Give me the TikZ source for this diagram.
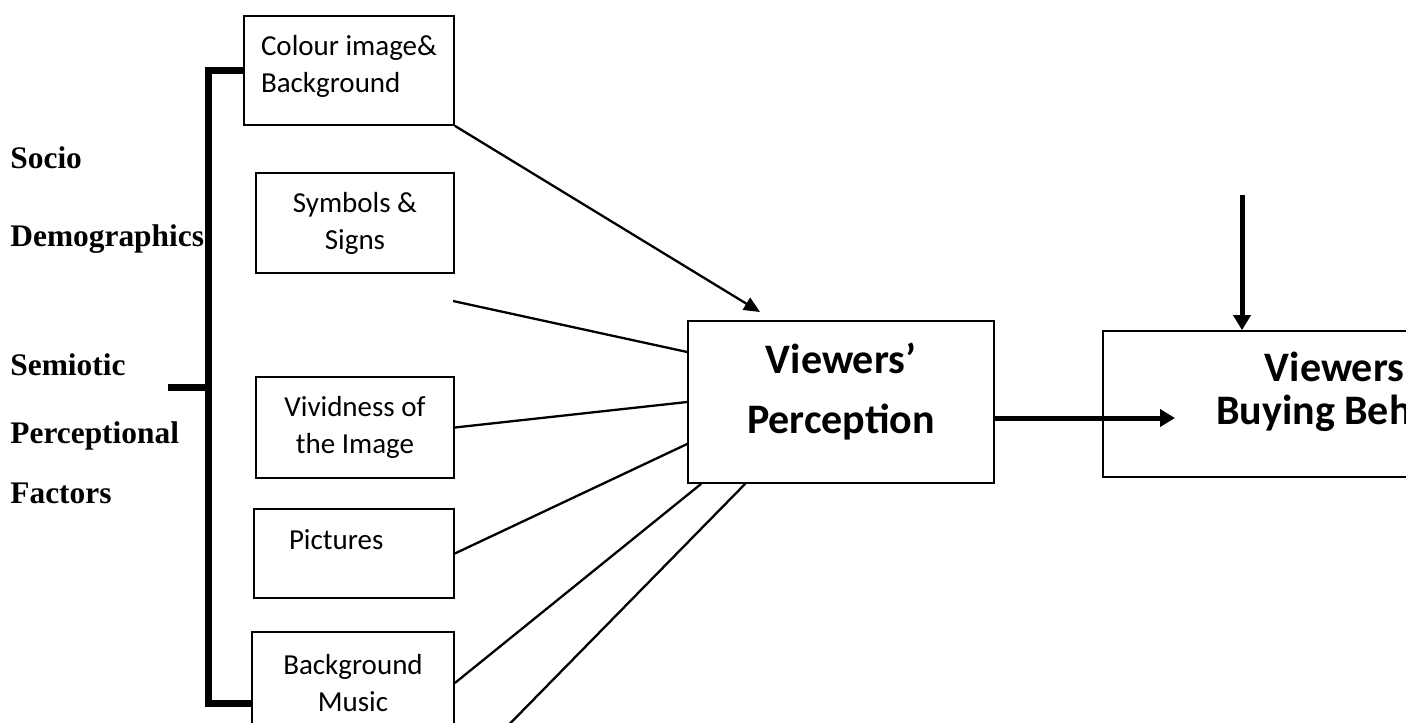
\documentclass[tikz,border=0pt]{standalone}
\usepackage{fontspec}
\usepackage{tikz}
\usetikzlibrary{arrows.meta}
\newfontfamily\boxfont{Carlito}
\newfontfamily\sidefont{Liberation Serif}

\begin{document}
\begin{tikzpicture}[x=0.5pt, y=-0.5pt,
  factorbox/.style={draw, line width=0.85pt, inner sep=0pt,
    font=\boxfont\fontsize{14.5}{18.5}\selectfont},
  mainbox/.style={draw, line width=0.85pt, inner sep=0pt, align=center,
    font=\boxfont\bfseries\fontsize{21}{30}\selectfont},
  sidelabel/.style={anchor=base west, inner sep=0pt,
    font=\sidefont\bfseries\fontsize{15.7}{18}\selectfont},
  link/.style={line width=1.15pt},
  thickarrow/.style={line width=2.5pt, -{Triangle[length=7.5pt,width=8.5pt]}},
  brace/.style={line width=3.5pt}]
  \useasboundingbox (0,0) rectangle (1406,722);
  \clip (0,0) rectangle (1406,722);

  % left labels
  \node[sidelabel] (socio) at (10,168) {Socio};
  \node[sidelabel] (demog) at (10,246) {Demographics};
  \node[sidelabel] (semio) at (10,375) {Semiotic};
  \node[sidelabel] (percf) at (10,443) {Perceptional};
  \node[sidelabel] (factors) at (10,503) {Factors};

  % factor boxes
  \node[factorbox, minimum width=105pt, minimum height=54.5pt, align=left,
    text depth=6.5pt] (colour) at (349,70.5) {Colour image\&\\Background};
  \node[factorbox, minimum width=99pt, minimum height=50pt, align=center]
    (symbols) at (355,223) {Symbols \&\\Signs};
  \node[factorbox, minimum width=99pt, minimum height=50.5pt, align=center]
    (vivid) at (355,427.5) {Vividness of\\the Image};
  \node[factorbox, minimum width=100pt, minimum height=44.5pt, text width=65pt,
    align=left, text depth=13.5pt] (pictures) at (354,553.5) {Pictures};
  \node[factorbox, minimum width=101pt, minimum height=51pt, align=center]
    (music) at (353,683) {Background\\Music};

  % main boxes
  \node[mainbox, minimum width=153pt, minimum height=81pt, text depth=13.5pt]
    (percept) at (841,402) {Viewers’\\Perception};
  \node[mainbox, minimum width=266pt, minimum height=73pt, text depth=16.5pt,
    font=\boxfont\bfseries\fontsize{21}{21.5}\selectfont]
    (buying) at (1369,404) {Viewers’\hspace*{29pt}\\Buying Behaviour};

  \coordinate (ptop) at (760,312);
  \coordinate (gapend) at (453,301);
  \coordinate (lowend) at (489,745);
  \coordinate (bbtip) at (1175,418);
  \coordinate (topin) at (1242,195);
  \coordinate (vbar) at (208,387);
  \coordinate (tick) at (168,387);

  % connectors
  \draw[link, -{Triangle[length=8pt,width=7pt]}] (colour.south east) -- (ptop);
  \draw[link] (gapend) -- ([yshift=25pt]percept.west);
  \draw[link] (vivid.east) -- (percept.west);
  \draw[link] (pictures.east) -- ([yshift=-21pt]percept.west);
  \draw[link] (music.east) -- ([xshift=7pt]percept.south west);
  \draw[link] (lowend) -- ([xshift=29pt]percept.south west);
  \draw[thickarrow] ([yshift=-8pt]percept.east) -- (bbtip);
  \draw[thickarrow] (topin) -- ([xshift=-63.5pt]buying.north);

  % bracket
  \draw[brace] (colour.west) -| (vbar) |- ([yshift=-10pt]music.west);
  \draw[brace] (tick) -- (vbar);
\end{tikzpicture}
\end{document}
